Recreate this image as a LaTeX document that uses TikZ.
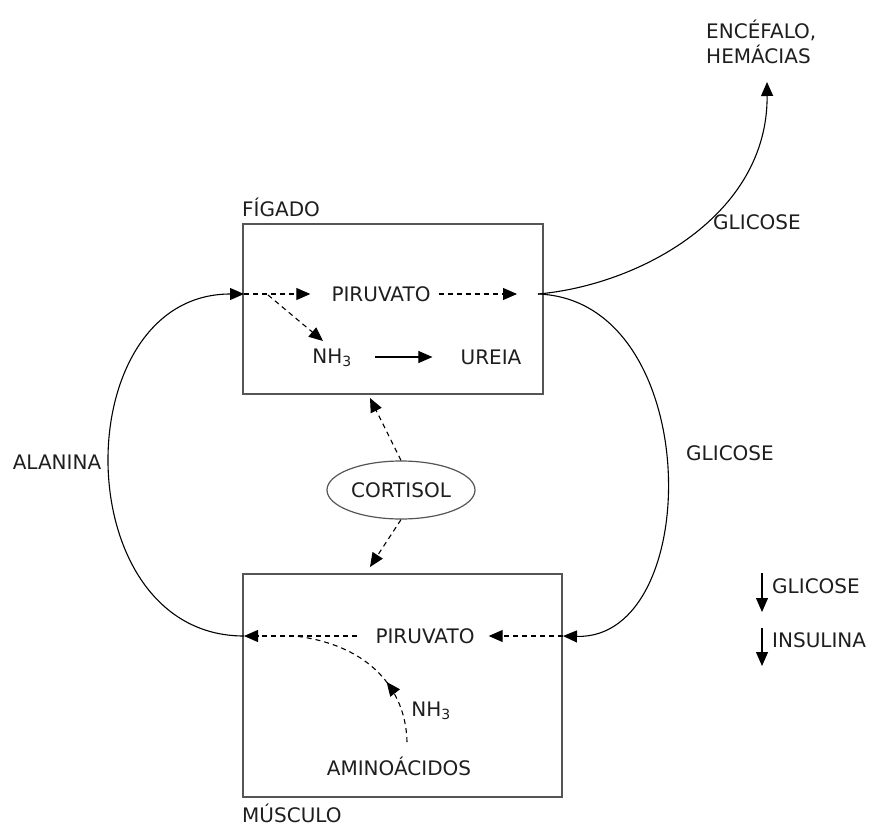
\documentclass[tikz,border=0pt]{standalone}
\usepackage{fontspec}
\setmainfont{DejaVu Sans}
\usepackage{tikz}
\usetikzlibrary{arrows.meta, shapes.geometric, decorations.markings}
\definecolor{boxline}{RGB}{85,85,85}
\definecolor{ink}{RGB}{30,30,30}

\begin{document}
\begin{tikzpicture}[x=1pt, y=-1pt, >={Triangle[length=14pt,width=12pt]},
  every node/.style={font=\fontsize{20}{25}\selectfont, text=ink, inner sep=2pt},
  organ/.style={draw=boxline, line width=1.4pt, rectangle},
  flow/.style={->, line width=1.1pt, dash pattern=on 5pt off 4pt},
  line/.style={->, line width=1.1pt}]
\useasboundingbox (0,0) rectangle (872,827);

% orgaos
\node(figado)[organ, minimum width=300pt, minimum height=170pt] at (393,309) {};
\node(musculo)[organ, minimum width=319pt, minimum height=223pt] at (402.5,685.5) {};
\node(figlabel)[anchor=west] at (240,207) {FÍGADO};
\node(muslabel)[anchor=west] at (240,813) {MÚSCULO};

\coordinate (fL) at (244,294);
\coordinate (fR) at (538,294);
\coordinate (mL) at (244,636);
\coordinate (mR) at (563,636);

% figado
\node(fpir) at (381,294) {PIRUVATO};
\node(fnh) at (332,358) {NH\textsubscript{3}};
\node(furea) at (491,357) {UREIA};
\coordinate (fB) at (268,295);
\coordinate (fN) at (323,341);
\begin{scope}
\draw[flow, shorten >=19pt] (fL) -- (fpir);
\draw[flow, shorten <=6pt, shorten >=21pt] (fpir) -- (fR);
\draw[flow] (fB) -- (fN);
\draw[line, shorten <=21pt, shorten >=26pt] (fnh.east |- furea.west) -- (furea.west);
\end{scope}

% musculo
\node(mpir) at (425,636) {PIRUVATO};
\node(mami) at (399,766) {AMINOÁCIDOS};
\node(mnh) at (431,711) {NH\textsubscript{3}};
\coordinate (mA) at (407,742);
\coordinate (mJ) at (295,636);
\begin{scope}
\draw[flow, shorten <=16pt] (mpir) -- (mL);
\draw[flow, shorten >=12pt] (mR) -- (mpir);
\draw[line width=1.1pt, dash pattern=on 5pt off 4pt,
  decoration={markings, mark=at position 0.38 with {\arrow{>}}}, postaction={decorate}]
  (mA) .. controls (406,690) and (370,645) .. (mJ);
\end{scope}

% cortisol
\node(cort)[ellipse, draw=boxline, line width=1.2pt, minimum width=148pt, minimum height=58pt] at (401,490) {CORTISOL};
\coordinate (cF) at (370,398);
\coordinate (cM) at (370,567);
\draw[flow] (cort.north) -- (cF);
\draw[flow] (cort.south) -- (cM);

% ciclos
\coordinate (top) at (767,82);
\draw[line] (mL) .. controls (65,636) and (65,294) .. (fL);
\draw[line] (fR) .. controls (705,300) and (705,640) .. (mR);
\draw[line] (fR) .. controls (640,285) and (768,215) .. (top);
\node(alanina) at (57,462) {ALANINA};
\node(glic1) at (730,453) {GLICOSE};
\node(glic2) at (757,222) {GLICOSE};
\node(dest)[anchor=west, align=left] at (704,42) {ENCÉFALO,\\HEMÁCIAS};

% legenda
\coordinate (g1) at (762,573);
\coordinate (g2) at (762,612);
\coordinate (i1) at (762,628);
\coordinate (i2) at (762,666);
\draw[line] (g1) -- (g2);
\draw[line] (i1) -- (i2);
\node(lglic)[anchor=west] at (770,586) {GLICOSE};
\node(linsu)[anchor=west] at (770,640) {INSULINA};
\end{tikzpicture}
\end{document}
